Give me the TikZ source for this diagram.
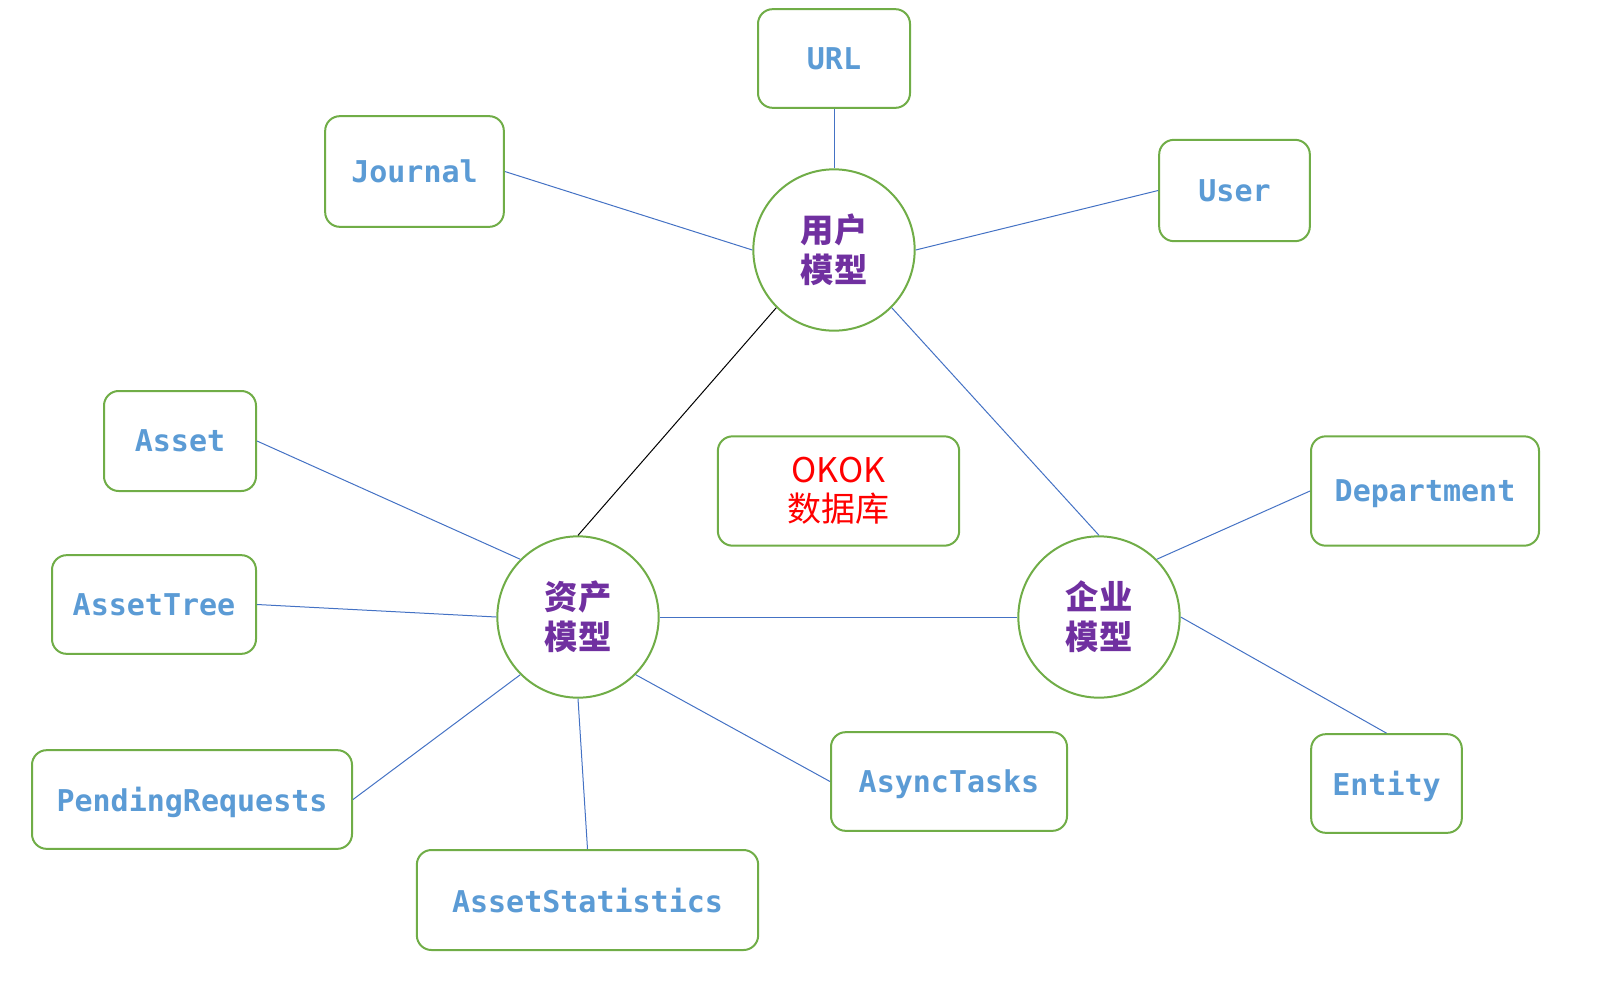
\documentclass[tikz,border=0pt]{standalone}
\usepackage{fontspec}
\newfontfamily\cjk{Noto Sans CJK SC}
\newfontfamily\mono{DejaVu Sans Mono}
\definecolor{gbord}{HTML}{70AD47}
\definecolor{btext}{HTML}{5B9BD5}
\definecolor{ptext}{HTML}{7030A0}
\definecolor{bline}{HTML}{4472C4}
\begin{document}
\begin{tikzpicture}[x=0.75pt,y=-0.75pt,
  box/.style={draw=gbord,line width=1.5pt,rounded corners=11pt,fill=white,inner sep=0pt,
     font=\mono\bfseries\fontsize{22.5}{26}\selectfont,text=btext,text depth=0pt},
  hub/.style={draw=gbord,line width=1.5pt,circle,minimum size=121pt,inner sep=0pt,fill=white,
     font=\cjk\bfseries\fontsize{25}{30}\selectfont,text=ptext,align=center},
  link/.style={draw=bline,line width=0.75pt},
  blink/.style={draw=black,line width=0.75pt}]
\useasboundingbox (0,0) rectangle (1601,989);
% hubs
\node[hub] (user) at (834,250) {用户\\模型};
\node[hub] (asset) at (578,617) {资产\\模型};
\node[hub] (ent) at (1099,617) {企业\\模型};
% boxes
\node[box,minimum width=114pt,minimum height=74pt] (url) at (834,58.5) {URL};
\node[box,minimum width=134pt,minimum height=83pt] (journal) at (414.5,171.5) {Journal};
\node[box,minimum width=113pt,minimum height=76pt] (usr) at (1234.5,190.5) {User};
\node[box,minimum width=114pt,minimum height=75pt] (ast) at (180,441) {Asset};
\node[box,minimum width=181pt,minimum height=82pt,font=\cjk\fontsize{25.5}{29}\selectfont,text=red,align=center,text depth=] (okok) at (838.5,491) {OKOK\\数据库};
\node[box,minimum width=171pt,minimum height=82pt] (dept) at (1425,491) {Department};
\node[box,minimum width=153pt,minimum height=74pt] (tree) at (154,604.5) {AssetTree};
\node[box,minimum width=240pt,minimum height=74pt] (pend) at (192,799.5) {PendingRequests};
\node[box,minimum width=177pt,minimum height=74pt] (async) at (949,781.5) {AsyncTasks};
\node[box,minimum width=113pt,minimum height=74pt] (entity) at (1386.5,783.5) {Entity};
\node[box,minimum width=256pt,minimum height=75pt] (stats) at (587.5,900) {AssetStatistics};
% connectors
\draw[link] (url.south) -- (user.north);
\draw[link] (journal.east) -- (user.west);
\draw[link] (usr.west) -- (user.east);
\draw[blink] (user.south west) -- (asset.north);
\draw[link] (user.south east) -- (ent.north);
\draw[link] (ast.east) -- (asset.north west);
\draw[link] (tree.east) -- (asset.west);
\draw[link] (pend.east) -- (asset.south west);
\draw[link] (stats.north) -- (asset.south);
\draw[link] (async.west) -- (asset.south east);
\draw[link] (asset.east) -- (ent.west);
\draw[link] (dept.west) -- (ent.north east);
\draw[link] (entity.north) -- (ent.east);
\end{tikzpicture}
\end{document}
